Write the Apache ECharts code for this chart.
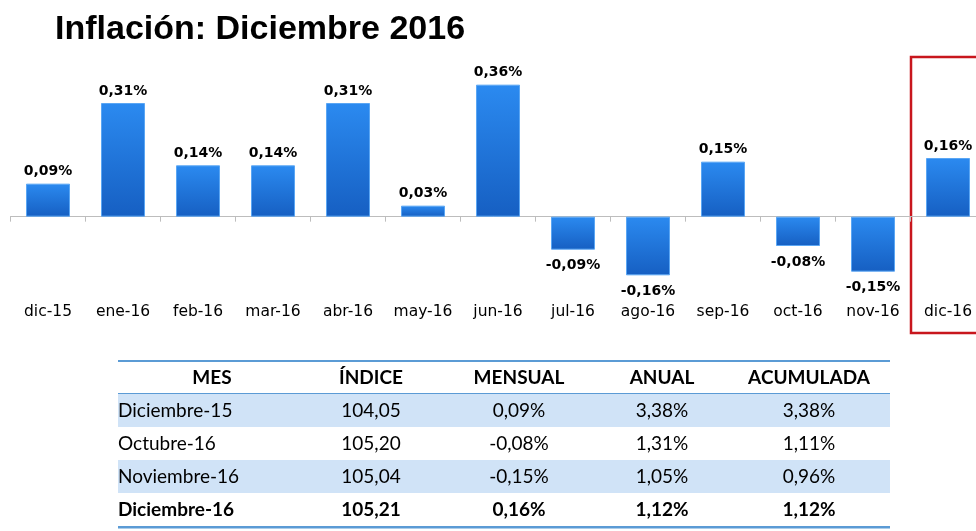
<!DOCTYPE html>
<html>
<head>
<meta charset="utf-8">
<script src="https://cdn.jsdelivr.net/npm/echarts@6/dist/echarts.min.js"></script>
<style>
html,body{margin:0;padding:0;background:#fff;}
#main{width:976px;height:531px;}
</style>
</head>
<body>
<div id="main"></div>
<script>
var categories = ['dic-15','ene-16','feb-16','mar-16','abr-16','may-16','jun-16','jul-16','ago-16','sep-16','oct-16','nov-16','dic-16'];
var values = [0.09,0.31,0.14,0.14,0.31,0.03,0.36,-0.09,-0.16,0.15,-0.08,-0.15,0.16];

var tableHeader = ['MES','ÍNDICE','MENSUAL','ANUAL','ACUMULADA'];
var colMes = ['Diciembre-15','Octubre-16','Noviembre-16','Diciembre-16'];
var colIndice = ['104,05','105,20','105,04','105,21'];
var colMensual = ['0,09%','-0,08%','-0,15%','0,16%'];
var colAnual = ['3,38%','1,31%','1,05%','1,12%'];
var colAcumulada = ['3,38%','1,11%','0,96%','1,12%'];

function fmt(v){ return v.toFixed(2).replace('.', ',') + '%'; }

var chart = echarts.init(document.getElementById('main'));

var barGrad = new echarts.graphic.LinearGradient(0,0,0,1,[
  {offset:0,color:'#2b8af0'},{offset:1,color:'#165fc2'}
]);

var seriesData = values.map(function(v){
  return {
    value: v,
    label: { position: v >= 0 ? 'top' : 'bottom', distance: v >= 0 ? 5 : 9 }
  };
});

var tLeft = 118, tRight = 890;
var colX = [118, 371, 519, 662, 809];
var headerY = 378;
var rowY = [411, 444, 477, 510];
var rowTop = [394, 427, 460, 493];
var rowH = 33;
var g = [];
[0,2].forEach(function(i){
  g.push({type:'rect', shape:{x:tLeft, y:rowTop[i], width:tRight-tLeft, height:rowH}, style:{fill:'#d0e3f7'}, silent:true});
});
g.push({type:'rect', shape:{x:tLeft, y:360, width:tRight-tLeft, height:2}, style:{fill:'#5b9bd5'}});
g.push({type:'rect', shape:{x:tLeft, y:393, width:tRight-tLeft, height:1}, style:{fill:'#5b9bd5'}});
g.push({type:'rect', shape:{x:tLeft, y:526, width:tRight-tLeft, height:2.5}, style:{fill:'#5b9bd5'}});
var tFont = 'Lato, "Open Sans", sans-serif';
tableHeader.forEach(function(h, j){
  g.push({type:'text', x: j===0 ? 212 : colX[j], y: headerY,
    style:{text:h, font:'bold 19px ' + tFont, fill:'#000', textAlign:'center', textVerticalAlign:'middle'}});
});
var cols = [colMes, colIndice, colMensual, colAnual, colAcumulada];
for (var r = 0; r < colMes.length; r++) {
  for (var c = 0; c < cols.length; c++) {
    var bold = (r === colMes.length - 1);
    g.push({type:'text', x: colX[c], y: rowY[r],
      style:{text: cols[c][r], font:(bold ? 'bold ' : '') + '19px ' + tFont, fill:'#000',
        textAlign: c === 0 ? 'left' : 'center', textVerticalAlign:'middle'}});
  }
}
g.push({type:'rect', shape:{x:911, y:57, width:80, height:276}, style:{fill:'none', stroke:'#c8161d', lineWidth:2.5}});

chart.setOption({
  backgroundColor:'#ffffff',
  animation:false,
  title:{
    text:'Inflación: Diciembre 2016',
    left:50, top:8,
    textStyle:{fontFamily:'"Liberation Sans", Arial, sans-serif', fontWeight:'bold', fontSize:34, color:'#000'}
  },
  grid:{left:10.5, width:975, top:70, height:220, containLabel:false, outerBoundsMode:'none'},
  xAxis:[{
    type:'category', data:categories, position:'bottom',
    axisLine:{show:false, onZero:false}, axisTick:{show:false},
    axisLabel:{color:'#000', fontFamily:'"DejaVu Sans", Verdana, sans-serif', fontSize:15.5, margin:14, interval:0}
  },{
    type:'category', data:categories, position:'bottom',
    axisLine:{show:true, onZero:true, lineStyle:{color:'#bdbdbd', width:1}},
    axisTick:{show:true, length:5, lineStyle:{color:'#bdbdbd'}},
    axisLabel:{show:false}
  }],
  yAxis:{type:'value', min:-0.2, max:0.4, show:false, splitLine:{show:false}},
  series:[{
    type:'bar', xAxisIndex:0, data:seriesData, barWidth:44,
    itemStyle:{color:barGrad, borderColor:'#5aa6f4', borderWidth:1},
    label:{show:true, formatter:function(p){return fmt(p.value);},
      color:'#000', fontFamily:'"DejaVu Sans", Verdana, sans-serif', fontWeight:'bold', fontSize:14}
  }],
  graphic:g
});
</script>
</body>
</html>
